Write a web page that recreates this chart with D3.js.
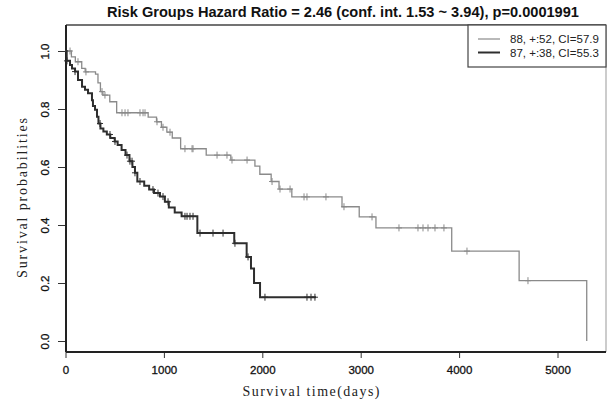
<!DOCTYPE html>
<html>
<head>
<meta charset="utf-8">
<script src="https://cdn.jsdelivr.net/npm/d3@7"></script>
<style>
  body { margin: 0; background: #fff; }
  svg { display: block; }
</style>
</head>
<body>
<svg id="km" width="607" height="401"></svg>
<script>
// group 1 (grey) : step times in days and survival after each step
let grayTimes = [0, 60, 100, 165, 200, 305, 330, 355, 380, 450, 520, 840, 925, 975, 1030, 1085, 1170,
    1430, 1680, 1925, 1975, 2090, 2170, 2300, 2810, 2985, 3155, 3925, 4610, 5297];
let graySurv = [1.0, 0.98, 0.963, 0.94, 0.928, 0.92, 0.89, 0.86, 0.848, 0.825, 0.787, 0.772, 0.756, 0.737, 0.72, 0.70, 0.663,
    0.641, 0.624, 0.603, 0.575, 0.55, 0.524, 0.497, 0.463, 0.428, 0.39, 0.31, 0.208, 0.0];
let grayCensor = [46, 127, 208, 371, 401, 574, 605, 635, 757, 788, 808, 930, 991, 1062, 1214, 1286, 1296,
    1540, 1641, 1692, 1845, 2099, 2180, 2282, 2424, 2454, 2647, 2830, 3115, 3389, 3582, 3633, 3684, 3755, 3846, 4080, 4700];

// group 2 (black)
let blackTimes = [0, 12, 46, 66, 97, 127, 168, 198, 229, 269, 279, 300, 320, 335, 355, 385, 420, 455, 500, 530, 570, 610,
    650, 680, 706, 730, 800, 850, 900, 960, 1010, 1050, 1110, 1180, 1340, 1715, 1841, 1885, 1916, 1977];
let blackSurv = [1.0, 0.966, 0.952, 0.94, 0.929, 0.90, 0.877, 0.866, 0.854, 0.83, 0.81, 0.797, 0.773, 0.75, 0.733, 0.722, 0.712, 0.70, 0.688, 0.676, 0.659, 0.641,
    0.62, 0.60, 0.58, 0.55, 0.535, 0.522, 0.51, 0.498, 0.48, 0.46, 0.443, 0.43, 0.372, 0.337, 0.29, 0.25, 0.2, 0.151];
let blackCensor = [15, 97, 351, 452, 503, 625, 655, 676, 706, 757, 889, 940, 991, 1042, 1214, 1235, 1265, 1296,
    1367, 1499, 1601, 1722, 1855, 2027, 2454, 2495, 2535];
let blackEnd = 2546;

let xTicks = [0, 1000, 2000, 3000, 4000, 5000];
let yTicks = [0, 0.2, 0.4, 0.6, 0.8, 1.0];
let legendLabels = ["88, +:52, CI=57.9", "87, +:38, CI=55.3"];
let colors = ["#8a8a8a", "#2e2e2e"];

let svg = d3.select("#km");
let box = {left: 66, right: 606, top: 25, bottom: 352};

let x = d3.scaleLinear().domain([0, 5000]).range([65.5, 557.5]);
let y = d3.scaleLinear().domain([0, 1]).range([341, 51]);

// title
svg.append("text")
    .attr("x", 343).attr("y", 17)
    .attr("text-anchor", "middle")
    .attr("font-family", "Liberation Sans, Arial, sans-serif")
    .attr("font-weight", "bold")
    .attr("font-size", 14)
    .attr("fill", "#111")
    .attr("textLength", 472).attr("lengthAdjust", "spacingAndGlyphs")
    .text("Risk Groups Hazard Ratio = 2.46 (conf. int. 1.53 ~ 3.94), p=0.0001991");

// axes
let xAxis = d3.axisBottom(x).tickValues(xTicks).tickFormat(d3.format("d")).tickSize(6).tickPadding(8);
let gx = svg.append("g").attr("transform", "translate(0," + box.bottom + ")").call(xAxis);
gx.select(".domain").remove();
gx.selectAll("line").attr("stroke", "#333");
gx.selectAll("text")
    .attr("font-family", "Liberation Sans, Arial, sans-serif")
    .attr("font-size", 11.5)
    .attr("fill", "#111")
    .attr("stroke", "#111").attr("stroke-width", 0.3);

let yAxis = d3.axisLeft(y).tickValues(yTicks).tickFormat(d3.format(".1f")).tickSize(8).tickPadding(0);
let gy = svg.append("g").attr("transform", "translate(" + box.left + ",0)").call(yAxis);
gy.select(".domain").remove();
gy.selectAll("line").attr("stroke", "#333");
gy.selectAll("text")
    .attr("font-family", "Liberation Sans, Arial, sans-serif")
    .attr("font-size", 11.5)
    .attr("fill", "#111")
    .attr("stroke", "#111").attr("stroke-width", 0.3)
    .attr("text-anchor", "middle")
    .attr("x", null).attr("dy", null)
    .attr("transform", "translate(-17,0) rotate(-90)");

// frame
svg.append("line").attr("x1", box.left).attr("x2", box.right).attr("y1", box.top).attr("y2", box.top)
    .attr("stroke", "#444").attr("stroke-width", 1.3);
svg.append("line").attr("x1", box.right).attr("x2", box.right).attr("y1", box.top).attr("y2", box.bottom)
    .attr("stroke", "#999").attr("stroke-width", 1);
svg.append("line").attr("x1", box.left).attr("x2", box.left).attr("y1", box.top).attr("y2", box.bottom)
    .attr("stroke", "#222").attr("stroke-width", 2);
svg.append("line").attr("x1", box.left).attr("x2", box.right).attr("y1", box.bottom).attr("y2", box.bottom)
    .attr("stroke", "#222").attr("stroke-width", 2);

// axis labels
svg.append("text")
    .attr("x", 311).attr("y", 396)
    .attr("text-anchor", "middle")
    .attr("font-family", "Liberation Serif, Times New Roman, serif")
    .attr("font-size", 14)
    .attr("fill", "#222")
    .attr("textLength", 137).attr("lengthAdjust", "spacing")
    .text("Survival time(days)");

svg.append("text")
    .attr("transform", "translate(27,198) rotate(-90)")
    .attr("text-anchor", "middle")
    .attr("font-family", "Liberation Serif, Times New Roman, serif")
    .attr("font-size", 14)
    .attr("fill", "#222")
    .attr("textLength", 160).attr("lengthAdjust", "spacing")
    .text("Survival probabilities");

// curves
let line = d3.line()
    .x(d => x(d[0]))
    .y(d => y(d[1]))
    .curve(d3.curveStepAfter);

const survAt = (times, surv, t) => {
    let i = d3.bisectRight(times, t) - 1;
    return surv[Math.max(0, i)];
};

const drawCurve = (times, surv, censor, endT, color, width) => {
    let pts = times.map((t, i) => [t, surv[i]]);
    if (endT !== null) pts.push([endT, surv[surv.length - 1]]);
    let g = svg.append("g");
    g.append("path")
        .datum(pts)
        .attr("d", line)
        .attr("fill", "none")
        .attr("stroke", color)
        .attr("stroke-width", width);
    g.selectAll("path.cens")
        .data(censor)
        .enter().append("path")
        .attr("class", "cens")
        .attr("d", function (c) {
            let cx = x(c), cy = y(survAt(times, surv, c));
            return "M" + (cx - 3) + "," + cy + "H" + (cx + 3) + "M" + cx + "," + (cy - 3.5) + "V" + (cy + 3.5);
        })
        .attr("stroke", color)
        .attr("stroke-width", 1);
};

drawCurve(grayTimes, graySurv, grayCensor, null, colors[0], 1.3);
drawCurve(blackTimes, blackSurv, blackCensor, blackEnd, colors[1], 2);

// legend
let legend = svg.append("g");
legend.append("rect")
    .attr("x", 468).attr("y", box.top)
    .attr("width", box.right - 468).attr("height", 67 - box.top)
    .attr("fill", "#fff").attr("stroke", "#444").attr("stroke-width", 1.2);
let items = legend.selectAll("g.item")
    .data(legendLabels)
    .enter().append("g")
    .attr("class", "item")
    .attr("transform", (d, i) => "translate(0," + (39 + i * 13.5) + ")");
items.append("line")
    .attr("x1", 478).attr("x2", 500)
    .attr("stroke", (d, i) => colors[i])
    .attr("stroke-width", (d, i) => i === 0 ? 1.2 : 2);
items.append("text")
    .attr("x", 510).attr("y", 4)
    .attr("font-family", "Liberation Sans, Arial, sans-serif")
    .attr("font-size", 11.5)
    .attr("fill", "#222")
    .text(d => d);
</script>
</body>
</html>
